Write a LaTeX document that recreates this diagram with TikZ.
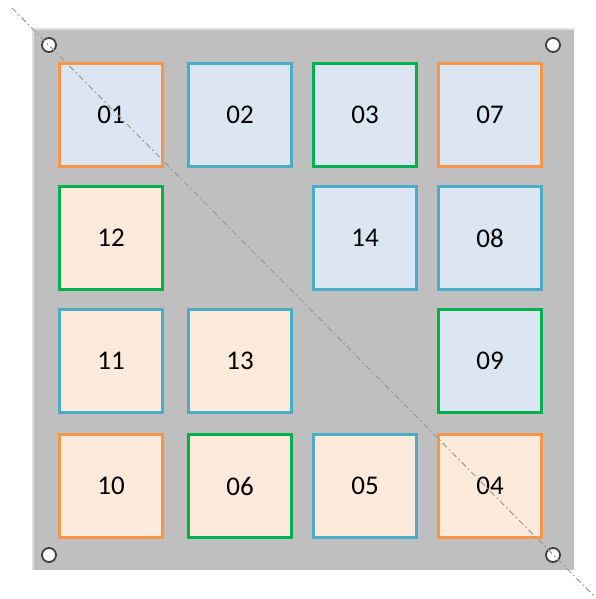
\documentclass[tikz,border=0pt]{standalone}
\usepackage{fontspec}
\setmainfont{Carlito}
\usetikzlibrary{positioning}

\definecolor{panelgray}{HTML}{BFBFBF}
\definecolor{tileblue}{HTML}{DCE6F2}
\definecolor{tilepeach}{HTML}{FDEADA}
\definecolor{edgeorange}{HTML}{F79646}
\definecolor{edgeblue}{HTML}{4BACC6}
\definecolor{edgegreen}{HTML}{00B050}

\begin{document}
\begin{tikzpicture}[
  x=0.5pt, y=-0.5pt,
  tile/.style={draw, line width=1.7pt, minimum size=51.5pt, inner sep=0pt, font=\fontsize{13.5}{16}\selectfont},
  upper/.style={tile, fill=tileblue},
  lower/.style={tile, fill=tilepeach},
  hole/.style={circle, draw=black!75, fill=white, line width=0.9pt, minimum size=7pt, inner sep=0pt},
  cut/.style={gray!80, line width=0.5pt, dash pattern=on 3pt off 1.5pt on 0.8pt off 1.5pt}
]
  \useasboundingbox (0,0) rectangle (595,599);

  % Panel
  \fill[panelgray] (33,29) rectangle (574,570);
  \draw[black!12, line width=0.8pt] (33,570) -- (33,29) -- (574,29);

  % Corner holes
  \node[hole] (h1) at (49,45) {};
  \node[hole] (h2) at (553,45) {};
  \node[hole] (h3) at (49,555) {};
  \node[hole] (h4) at (553,555) {};

  % Row 1
  \node[upper, draw=edgeorange] (t01) at (111,115) {01};
  \node[upper, draw=edgeblue] (t02) at (240,115) {02};
  \node[upper, draw=edgegreen] (t03) at (365,115) {03};
  \node[upper, draw=edgeorange] (t07) at (490,115) {07};

  % Row 2
  \node[lower, draw=edgegreen] (t12) at (111,238) {12};
  \node[upper, draw=edgeblue] (t14) at (365,238) {14};
  \node[upper, draw=edgeblue] (t08) at (490,238) {08};

  % Row 3
  \node[lower, draw=edgeblue] (t11) at (111,361) {11};
  \node[lower, draw=edgeblue] (t13) at (240,361) {13};
  \node[upper, draw=edgegreen] (t09) at (490,361) {09};

  % Row 4
  \node[lower, draw=edgeorange] (t10) at (111,486) {10};
  \node[lower, draw=edgegreen] (t06) at (240,486) {06};
  \node[lower, draw=edgeblue] (t05) at (365,486) {05};
  \node[lower, draw=edgeorange] (t04) at (490,486) {04};

  % Cut line
  \coordinate (cutA) at (12,8);
  \coordinate (cutB) at (595,597);
  \draw[cut] (cutA) -- (cutB);
\end{tikzpicture}
\end{document}
